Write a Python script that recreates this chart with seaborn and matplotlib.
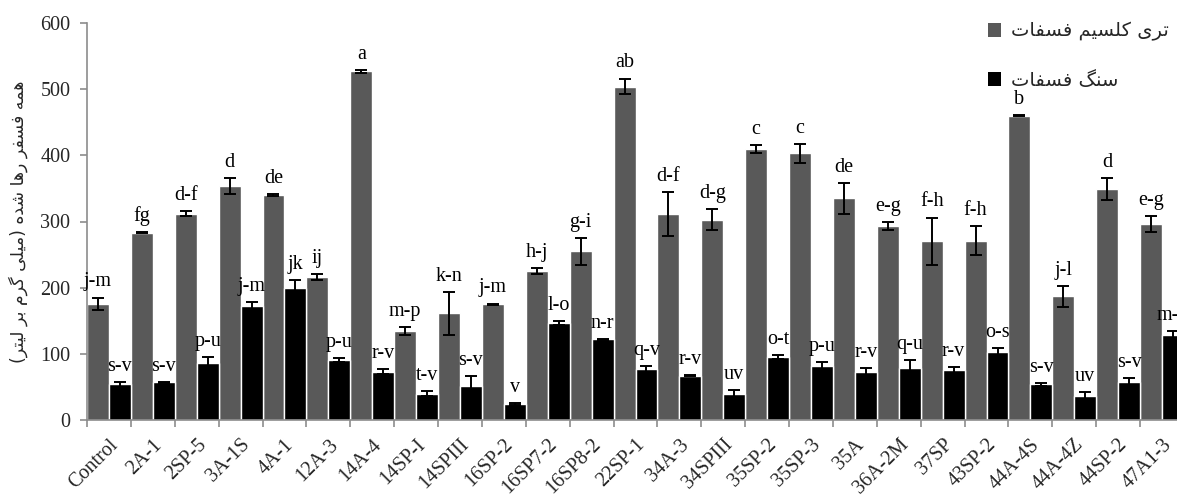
import numpy as np
import pandas as pd
import matplotlib
matplotlib.use("Agg")
import matplotlib.pyplot as plt
import seaborn as sns
from matplotlib.patches import Patch

# Isolates / strains on the x axis
categories = ["Control", "2A-1", "2SP-5", "3A-1S", "4A-1", "12A-3", "14A-4",
              "14SP-I", "14SPIII", "16SP-2", "16SP7-2", "16SP8-2", "22SP-1",
              "34A-3", "34SPIII", "35SP-2", "35SP-3", "35A", "36A-2M", "37SP",
              "43SP-2", "44A-4S", "44A-4Z", "44SP-2", "47A1-3"]

# Tricalcium phosphate series
tcp_mean = [176, 283, 312, 354, 340, 216, 527, 134, 161, 175, 225, 255, 504,
            311, 303, 410, 403, 335, 293, 270, 271, 460, 187, 349, 296]
tcp_err = [9, 1, 4, 12, 1, 5, 2, 6, 33, 1, 5, 20, 12,
           33, 16, 6, 14, 23, 6, 36, 22, 1, 16, 16, 12]
tcp_letters = ["j-m", "fg", "d-f", "d", "de", "ij", "a", "m-p", "k-n", "j-m",
               "h-j", "g-i", "ab", "d-f", "d-g", "c", "c", "de", "e-g", "f-h",
               "f-h", "b", "j-l", "d", "e-g"]

# Rock phosphate series
rock_mean = [54, 57, 86, 173, 200, 91, 73, 40, 52, 24, 146, 122, 77,
             67, 39, 95, 82, 73, 79, 75, 103, 54, 36, 57, 129]
rock_err = [4, 1, 9, 5, 11, 3, 4, 4, 15, 2, 3, 1, 5,
            1, 6, 3, 6, 5, 11, 5, 6, 2.5, 6, 7, 6]
rock_letters = ["s-v", "s-v", "p-u", "j-m", "jk", "p-u", "r-v", "t-v", "s-v",
                "v", "l-o", "n-r", "q-v", "r-v", "uv", "o-t", "p-u", "r-v",
                "q-u", "r-v", "o-s", "s-v", "uv", "s-v", "m-o"]

series_names = ["تری کلسیم فسفات", "سنگ فسفات"]
series_colors = ["#595959", "#000000"]
y_label = "همه فسفر رها شده (میلی گرم بر لیتر)"
y_ticks = [0, 100, 200, 300, 400, 500, 600]

# Contextual forms (isolated, final, initial, medial) for the Persian letters used
FORMS = {
    "ا": ("\uFE8D", "\uFE8E", None, None),
    "ب": ("\uFE8F", "\uFE90", "\uFE91", "\uFE92"),
    "ت": ("\uFE95", "\uFE96", "\uFE97", "\uFE98"),
    "د": ("\uFEA9", "\uFEAA", None, None),
    "ر": ("\uFEAD", "\uFEAE", None, None),
    "س": ("\uFEB1", "\uFEB2", "\uFEB3", "\uFEB4"),
    "ش": ("\uFEB5", "\uFEB6", "\uFEB7", "\uFEB8"),
    "ف": ("\uFED1", "\uFED2", "\uFED3", "\uFED4"),
    "ل": ("\uFEDD", "\uFEDE", "\uFEDF", "\uFEE0"),
    "م": ("\uFEE1", "\uFEE2", "\uFEE3", "\uFEE4"),
    "ن": ("\uFEE5", "\uFEE6", "\uFEE7", "\uFEE8"),
    "ه": ("\uFEE9", "\uFEEA", "\uFEEB", "\uFEEC"),
    "ی": ("\uFBFC", "\uFBFD", "\uFBFE", "\uFBFF"),
    "ک": ("\uFB8E", "\uFB8F", "\uFB90", "\uFB91"),
    "گ": ("\uFB92", "\uFB93", "\uFB94", "\uFB95"),
}
MIRROR = {"(": ")", ")": "("}


def shape_rtl(text):
    """Join Persian letters into their contextual forms and lay them out right to left."""
    out = []
    n = len(text)
    for i, ch in enumerate(text):
        if ch not in FORMS:
            out.append(MIRROR.get(ch, ch))
            continue
        prev = text[i - 1] if i > 0 else ""
        nxt = text[i + 1] if i + 1 < n else ""
        joins_prev = prev in FORMS and FORMS[prev][2] is not None
        joins_next = FORMS[ch][2] is not None and nxt in FORMS
        iso, fin, ini, med = FORMS[ch]
        if joins_prev and joins_next:
            out.append(med)
        elif joins_prev:
            out.append(fin)
        elif joins_next:
            out.append(ini)
        else:
            out.append(iso)
    return "".join(reversed(out))


sns.set_style("ticks")
plt.rcParams["font.family"] = ["Liberation Serif", "DejaVu Sans"]
persian_font = ["DejaVu Sans"]

df = pd.DataFrame({
    "category": categories * 2,
    "series": [series_names[0]] * len(categories) + [series_names[1]] * len(categories),
    "value": tcp_mean + rock_mean,
})

fig = plt.figure(figsize=(11.77, 4.95), dpi=100)
ax = fig.add_axes([87 / 1177, 1 - 420 / 495, 1097 / 1177, 397 / 495])

sns.barplot(data=df, x="category", y="value", hue="series", order=categories,
            hue_order=series_names, palette=series_colors, width=1.0, gap=0,
            errorbar=None, edgecolor="white", linewidth=1.0, saturation=1,
            legend=False, ax=ax)

errs = [tcp_err, rock_err]
letters = [tcp_letters, rock_letters]
for container, err, labs in zip(ax.containers, errs, letters):
    xs = [b.get_x() + b.get_width() / 2 for b in container]
    hs = [b.get_height() for b in container]
    ax.errorbar(xs, hs, yerr=err, fmt="none", ecolor="black",
                elinewidth=1.4, capsize=4, capthick=1.4, zorder=4)
    for x, h, e, lab in zip(xs, hs, err, labs):
        ax.annotate(lab, (x, h + e), xytext=(0, 8), textcoords="offset points",
                    ha="center", va="baseline", fontsize=14.5, color="black")

ax.set_xlim(-0.5, len(categories) - 0.5)
ax.set_ylim(0, 600)
ax.set_yticks(y_ticks)
ax.set_xticks(range(len(categories)))
ax.set_xticklabels(categories, rotation=45, ha="right", rotation_mode="anchor",
                   fontsize=14.5)
ax.set_xticks(np.arange(-0.5, len(categories), 1), minor=True)
ax.tick_params(axis="x", which="major", length=0, pad=11)
ax.tick_params(axis="x", which="minor", length=5, width=1.2, color="#8c8c8c",
               direction="out")
ax.tick_params(axis="y", length=5, width=1.2, color="#8c8c8c", direction="out",
               labelsize=14.5, pad=7)
ax.set_xlabel("")
ax.set_ylabel(shape_rtl(y_label), family=persian_font, fontsize=12.5, labelpad=9)

for side in ("top", "right"):
    ax.spines[side].set_visible(False)
for side in ("left", "bottom"):
    ax.spines[side].set_color("#8c8c8c")
    ax.spines[side].set_linewidth(1.2)

handles = [Patch(facecolor=c, edgecolor="none") for c in series_colors]
leg = ax.legend(handles, [shape_rtl(s) for s in series_names],
                loc="upper left", bbox_to_anchor=(978 / 1177, 1 - 12 / 495),
                bbox_transform=fig.transFigure, frameon=False,
                prop={"family": persian_font, "size": 14},
                handlelength=0.7, handleheight=0.7, handletextpad=0.5,
                labelspacing=1.5, borderpad=0)

fig.savefig("out.png", dpi=100)
